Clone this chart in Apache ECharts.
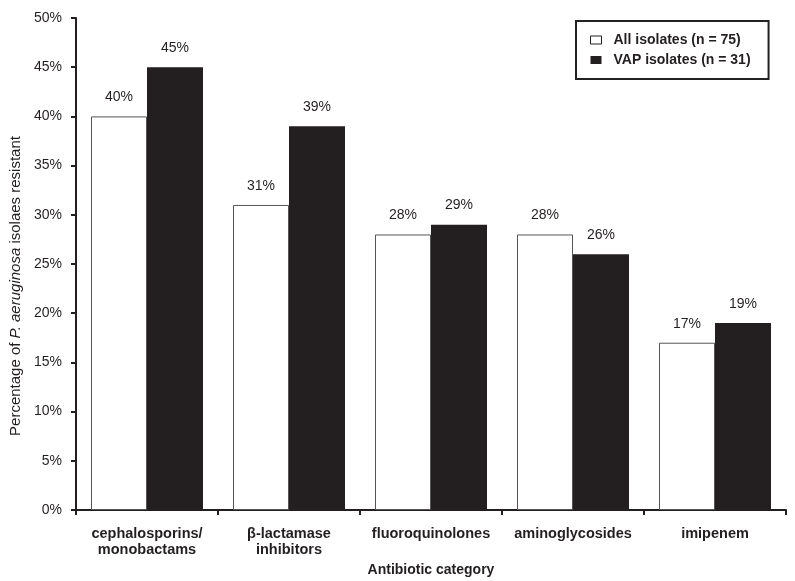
<!DOCTYPE html>
<html>
<head>
<meta charset="utf-8">
<script src="https://cdn.jsdelivr.net/npm/echarts@6/dist/echarts.min.js"></script>
<style>html,body{margin:0;padding:0;background:#fff}#c{width:795px;height:581px}</style>
</head>
<body>
<div id="c"></div>
<script>
var categories = ['cephalosporins/\nmonobactams', 'β-lactamase\ninhibitors', 'fluoroquinolones', 'aminoglycosides', 'imipenem'];
var allIsolates = [40, 31, 28, 28, 17];
var vapIsolates = [45, 39, 29, 26, 19];
var seriesNames = ['All isolates (n = 75)', 'VAP isolates (n = 31)'];

var FONT = '"Liberation Sans", Arial, Helvetica, sans-serif';
var chart = echarts.init(document.getElementById('c'));
chart.setOption({
  animation: false,
  backgroundColor: '#fff',
  textStyle: { fontFamily: FONT },
  grid: { left: 76, right: 9, top: 18, bottom: 71, containLabel: false, outerBoundsMode: 'none' },
  legend: {
    orient: 'vertical', left: 576, top: 21,
    padding: [12, 18, 12, 14],
    itemWidth: 11, itemHeight: 8, itemGap: 6,
    borderColor: '#222', borderWidth: 2,
    textStyle: { fontSize: 14, fontWeight: 'bold', color: '#231f20', fontFamily: FONT, lineHeight: 14, padding: [0, 0, 0, 7] },
    data: [
      { name: seriesNames[0], icon: 'rect', itemStyle: { color: '#fff', borderColor: '#231f20', borderWidth: 1 } },
      { name: seriesNames[1], icon: 'rect', itemStyle: { color: '#231f20' } }
    ]
  },
  xAxis: {
    type: 'category', data: categories,
    axisLine: { lineStyle: { color: '#231f20', width: 2 } },
    axisTick: { show: true, length: 5, interval: 0, lineStyle: { color: '#231f20', width: 2 } },
    axisLabel: { interval: 0, hideOverlap: false, fontSize: 14.5, fontWeight: 'bold', color: '#231f20', lineHeight: 16, margin: 16, fontFamily: FONT },
    name: 'Antibiotic category', nameLocation: 'middle', nameGap: 52,
    nameTextStyle: { fontSize: 14, fontWeight: 'bold', color: '#231f20', fontFamily: FONT }
  },
  yAxis: {
    type: 'value', min: 0, max: 50, interval: 5,
    splitLine: { show: false },
    axisLine: { show: true, lineStyle: { color: '#231f20', width: 2 } },
    axisTick: { show: true, length: 5, lineStyle: { color: '#231f20', width: 2 } },
    axisLabel: { formatter: '{value}%', fontSize: 14, color: '#231f20', margin: 14, fontFamily: FONT },
    name: '{n|Percentage of }{i|P. aeruginosa}{n| isolaes resistant}',
    nameLocation: 'middle', nameGap: 51,
    nameTextStyle: {
      padding: [0, 44, 0, 0],
      rich: {
        n: { fontSize: 15, color: '#231f20', fontFamily: FONT },
        i: { fontSize: 15, color: '#231f20', fontStyle: 'italic', fontFamily: FONT }
      }
    }
  },
  series: [
    {
      name: seriesNames[0], type: 'bar', data: allIsolates,
      barWidth: 56, barGap: '0%',
      itemStyle: { color: '#fff', borderColor: '#555', borderWidth: 1 },
      label: { show: true, position: 'top', distance: 12, formatter: '{c}%', fontSize: 14, color: '#231f20', fontFamily: FONT }
    },
    {
      name: seriesNames[1], type: 'bar', data: vapIsolates,
      barWidth: 56, barGap: '0%',
      itemStyle: { color: '#231f20' },
      label: { show: true, position: 'top', distance: 12, formatter: '{c}%', fontSize: 14, color: '#231f20', fontFamily: FONT }
    }
  ]
});
</script>
</body>
</html>
